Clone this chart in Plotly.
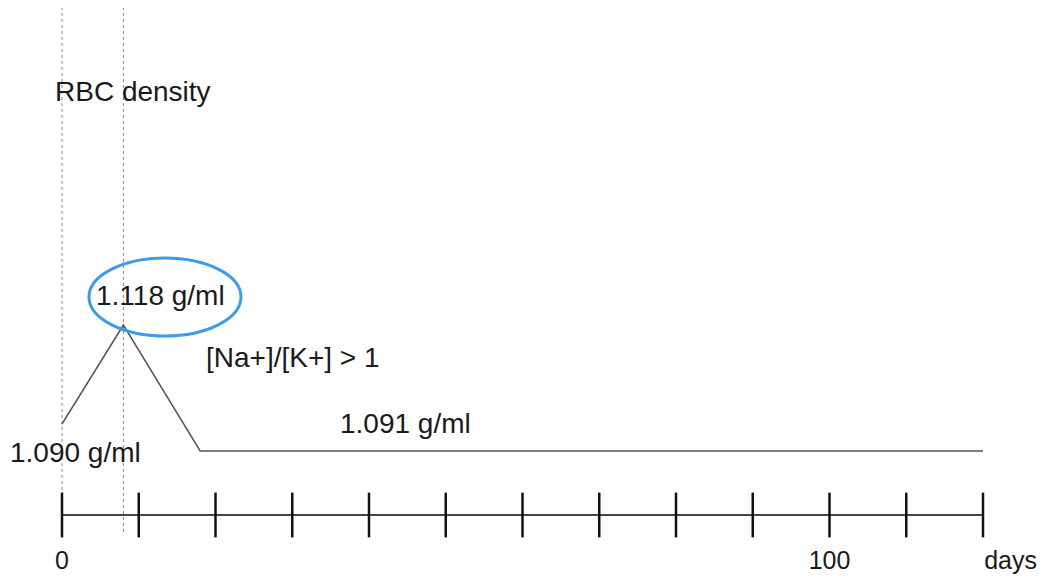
import plotly.graph_objects as go

# schematic curve (heights are not to scale, only the labels carry values)
days = [0, 8, 18, 120]
height = [160, 259, 133, 133]
density_labels = ["1.090 g/ml", "1.118 g/ml", "1.091 g/ml"]

# time axis
tick_days = [0, 10, 20, 30, 40, 50, 60, 70, 80, 90, 100, 110, 120]
tick_labels = ["0", "100", "days"]
tick_label_days = [0, 100, 123.6]
marker_days = [0, 8]

axis_y = 69
px_per_day = 7.675
body = 8  # page margin round the plot div
W, H = 1051 - 2 * body, 584 - 2 * body
font = dict(family="Liberation Sans, Arial, sans-serif", size=28, color="#1a1a1a")

fig = go.Figure()

# dotted guides at day 0 and day 8
for d in marker_days:
    fig.add_trace(go.Scatter(x=[d, d], y=[577, 50], mode="lines",
                             line=dict(color="#8a8a8a", width=1, dash="dot"),
                             hoverinfo="skip"))

# axis line and ticks
fig.add_trace(go.Scatter(x=[tick_days[0], tick_days[-1]], y=[axis_y, axis_y], mode="lines",
                         line=dict(color="#444444", width=2), hoverinfo="skip"))
fig.add_trace(go.Scatter(x=tick_days, y=[axis_y] * len(tick_days), mode="markers",
                         marker=dict(symbol="line-ns", size=32,
                                     line=dict(color="#111111", width=2.5)),
                         hoverinfo="skip"))

# density curve
fig.add_trace(go.Scatter(x=days, y=height, mode="lines",
                         line=dict(color="#555555", width=1.5), hoverinfo="skip"))

# tick labels
fig.add_trace(go.Scatter(x=tick_label_days, y=[21] * 3, mode="text", text=tick_labels,
                         textfont=dict(font, size=25), textposition="middle center",
                         hoverinfo="skip"))

# text labels
notes = [
    ("RBC density", 9.25, 493),
    (density_labels[0], 1.76, 132),
    (density_labels[1], 12.8, 289),
    ("[Na+]/[K+] > 1", 30.1, 227),
    (density_labels[2], 44.8, 161),
]
for txt, x, y in notes:
    fig.add_annotation(x=x, y=y, text=txt, showarrow=False, font=font,
                       xanchor="center", yanchor="middle")

# highlight ellipse round the peak value
fig.add_shape(type="circle", xref="x", yref="y",
              x0=(89 - 62) / px_per_day, x1=(241 - 62) / px_per_day,
              y0=248, y1=326, line=dict(color="#3d9be9", width=3))

fig.update_layout(
    width=W, height=H,
    margin=dict(l=0, r=0, t=0, b=0),
    paper_bgcolor="white", plot_bgcolor="white",
    showlegend=False,
    xaxis=dict(range=[-(62 - body) / px_per_day, (W - (62 - body)) / px_per_day],
               visible=False, fixedrange=True),
    yaxis=dict(range=[body, 584 - body], visible=False, fixedrange=True),
)

fig.write_html("out.html")
